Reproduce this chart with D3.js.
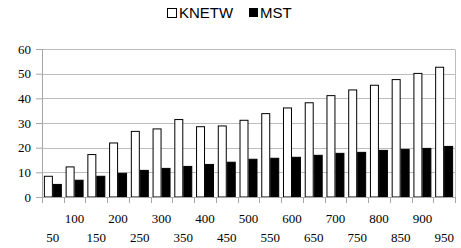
<!DOCTYPE html>
<html lang="en">
<head>
  <meta charset="UTF-8">
  <title>KNETW vs MST</title>
  <style>
    body { margin: 0; background: #fff; }
    svg text.serif { font-family: "Liberation Serif", "DejaVu Serif", serif; font-size: 13px; }
    svg text.sans { font-family: "Liberation Sans", Arial, sans-serif; font-size: 15px; }
  </style>
</head>
<body>
  <svg width="461" height="248"></svg>
  <script src="https://d3js.org/d3.v7.min.js"></script>
  <script>
    var sizes = [50,100,150,200,250,300,350,400,450,500,550,600,650,700,750,800,850,900,950];
    var knetw = [8.4,12.2,17.2,21.9,26.6,27.6,31.4,28.5,28.8,31.1,33.8,36.1,38.2,41.1,43.4,45.3,47.6,50.1,52.6];
    var mst = [5.1,6.8,8.4,9.6,10.8,11.6,12.4,13.2,14.1,15.3,15.7,16.1,16.9,17.7,18.1,18.9,19.3,19.7,20.5];
    var yTicks = [0,10,20,30,40,50,60];
    var seriesNames = ["KNETW", "MST"];

    var svg = d3.select("svg"),
        margin = {top: 49, right: 6, bottom: 51, left: 42},
        width = +svg.attr("width") - margin.left - margin.right,
        height = +svg.attr("height") - margin.top - margin.bottom;

    var x = d3.scaleBand().domain(sizes).range([0, width]).paddingInner(0).paddingOuter(0);
    var x1 = d3.scaleBand().domain(seriesNames).range([0, x.bandwidth()]).paddingInner(0).paddingOuter(0.21);
    var y = d3.scaleLinear().domain([0, 60]).range([height, 0]);

    var g = svg.append("g").attr("transform", "translate(" + margin.left + "," + margin.top + ")");

    // gridlines
    g.append("g")
      .selectAll("line")
      .data(yTicks.slice(1))
      .enter().append("line")
      .attr("x1", 0).attr("x2", width)
      .attr("y1", d => Math.round(y(d)) + 0.5).attr("y2", d => Math.round(y(d)) + 0.5)
      .attr("stroke", "#bdbdbd");

    // right border
    g.append("line")
      .attr("x1", width + 0.5).attr("x2", width + 0.5)
      .attr("y1", Math.round(y(60)) + 0.5).attr("y2", height)
      .attr("stroke", "#bdbdbd");

    // y axis
    var yAxis = g.append("g")
      .call(d3.axisLeft(y).tickValues(yTicks).tickSize(6).tickPadding(5));
    yAxis.selectAll("text").attr("class", "serif").attr("fill", "#000");
    yAxis.select(".domain").attr("stroke", "#a6a6a6");
    yAxis.selectAll(".tick line").attr("stroke", "#a6a6a6");

    // bars
    var groups = g.selectAll(".grp")
      .data(sizes.map((s, i) => ({size: s, vals: [knetw[i], mst[i]]})))
      .enter().append("g")
      .attr("class", "grp")
      .attr("transform", d => "translate(" + x(d.size) + ",0)");

    groups.selectAll("rect")
      .data(d => d.vals.map((v, j) => ({name: seriesNames[j], v: v})))
      .enter().append("rect")
      .attr("x", d => x1(d.name) + 0.5)
      .attr("y", d => y(d.v))
      .attr("width", x1.bandwidth() - 1)
      .attr("height", d => height - y(d.v))
      .attr("fill", d => d.name == "KNETW" ? "#fff" : "#000")
      .attr("stroke", "#000")
      .attr("stroke-width", 1);

    // x axis
    var xAxisG = g.append("g")
      .attr("transform", "translate(0," + height + ")");
    xAxisG.append("line")
      .attr("x1", 0).attr("x2", width + 1)
      .attr("y1", 0.5).attr("y2", 0.5)
      .attr("stroke", "#a6a6a6");
    xAxisG.selectAll(".xtick")
      .data(sizes.concat(["end"]))
      .enter().append("line")
      .attr("x1", (d, i) => Math.round(i * x.step()) + 0.5)
      .attr("x2", (d, i) => Math.round(i * x.step()) + 0.5)
      .attr("y1", 0).attr("y2", 6)
      .attr("stroke", "#a6a6a6");
    xAxisG.selectAll(".xlab")
      .data(sizes)
      .enter().append("text")
      .attr("class", "serif")
      .attr("x", d => x(d) + x.bandwidth() / 2)
      .attr("y", (d, i) => i % 2 == 0 ? 45 : 26)
      .attr("text-anchor", "middle")
      .attr("fill", "#000")
      .text(d => d);

    // legend
    var legend = svg.append("g");
    legend.append("rect").attr("x", 167.5).attr("y", 8.5).attr("width", 9).attr("height", 9)
      .attr("fill", "#fff").attr("stroke", "#000");
    legend.append("text").attr("class", "sans").attr("x", 179).attr("y", 18).text(seriesNames[0]);
    legend.append("rect").attr("x", 249).attr("y", 8).attr("width", 9).attr("height", 9)
      .attr("fill", "#000");
    legend.append("text").attr("class", "sans").attr("x", 260).attr("y", 18).text(seriesNames[1]);
  </script>
</body>
</html>
